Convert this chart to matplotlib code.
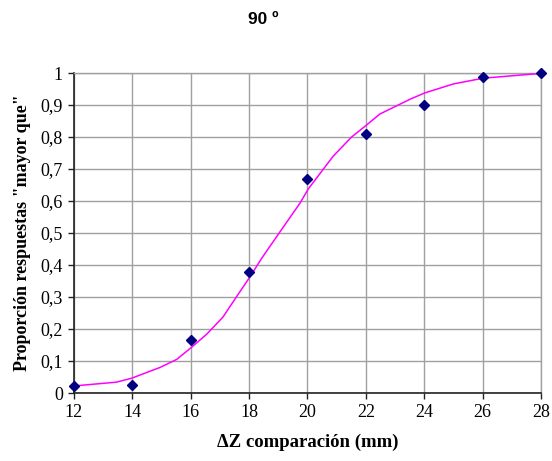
import numpy as np
import matplotlib as mpl
import matplotlib.pyplot as plt

# Observed proportions
dz = [12, 14, 16, 18, 20, 22, 24, 26, 28]
prop = [0.022, 0.025, 0.165, 0.378, 0.669, 0.81, 0.90, 0.988, 1.0]

# Fitted curve
fit_x = [12.0, 13.46, 13.97, 14.95, 15.52, 16.03, 16.55, 17.11, 17.57, 18.03, 18.43,
         19.06, 19.74, 20.03, 20.88, 21.51, 22.03, 22.48, 23.51, 24.02, 25.0, 26.02, 28.0]
fit_y = [0.022, 0.034, 0.046, 0.080, 0.105, 0.143, 0.184, 0.238, 0.301, 0.363, 0.421,
         0.504, 0.593, 0.638, 0.74, 0.80, 0.838, 0.872, 0.918, 0.938, 0.966, 0.984, 0.999]

xticks = [12, 14, 16, 18, 20, 22, 24, 26, 28]
yticks = [0, 0.1, 0.2, 0.3, 0.4, 0.5, 0.6, 0.7, 0.8, 0.9, 1.0]

serif = 'Liberation Serif'

fig = plt.figure(figsize=(5.52, 4.61), dpi=100)
ax = fig.add_axes([0.134, 0.1475, 0.846, 0.694])

ax.plot(fit_x, fit_y, color='#ff00ff', lw=1.1, zorder=3)
ax.plot(dz, prop, ls='none', marker='D', ms=5.5, color='#000080', zorder=4, clip_on=False)

ax.set_xlim(12, 28)
ax.set_ylim(0, 1)
ax.set_xticks(xticks)
ax.set_yticks(yticks)
ax.set_xticklabels([str(v) for v in xticks], fontfamily=serif, fontsize=13)
ax.set_yticklabels(['0' if v == 0 else ('1' if v == 1 else ('%.1f' % v).replace('.', ',')) for v in yticks],
                   fontfamily=serif, fontsize=13)
ax.tick_params(direction='out', length=4, width=1, color='#222222', pad=4)

ax.grid(True, color='#a0a0a0', lw=1)
ax.set_axisbelow(True)
for s in ['top', 'right']:
    ax.spines[s].set_color('#a0a0a0')
    ax.spines[s].set_linewidth(1)
for s in ['left', 'bottom']:
    ax.spines[s].set_color('#222222')
    ax.spines[s].set_linewidth(1.2)

ax.set_xlabel('\u0394Z comparación (mm)', fontfamily=serif, fontweight='bold', fontsize=13.5, labelpad=9)
ax.set_ylabel('Proporción respuestas "mayor que"', fontfamily=serif, fontweight='bold', fontsize=13, labelpad=7)

fig.text(0.477, 0.958, '90 º', ha='center', va='center', fontfamily='Liberation Sans',
         fontweight='bold', fontsize=12.5)

fig.savefig('out.png', dpi=100)
plt.close()
